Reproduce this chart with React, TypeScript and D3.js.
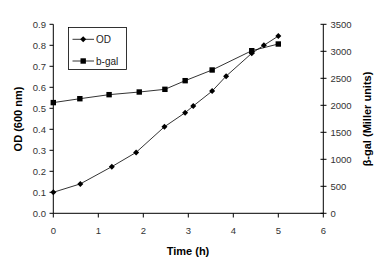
import React from "react";
import * as d3 from "d3";

const timeOD = [0, 0.6, 1.3, 1.84, 2.47, 2.93, 3.11, 3.53, 3.84, 4.41, 4.68, 5.0];
const odValues = [0.10, 0.14, 0.222, 0.29, 0.412, 0.479, 0.511, 0.582, 0.653, 0.762, 0.80, 0.844];
const timeGal = [0, 0.59, 1.24, 1.91, 2.48, 2.93, 3.53, 4.41, 5.0];
const galValues = [2050, 2122, 2197, 2246, 2296, 2456, 2654, 3011, 3135];
const xTicks = [0, 1, 2, 3, 4, 5, 6];
const leftTicks = [0, 0.1, 0.2, 0.3, 0.4, 0.5, 0.6, 0.7, 0.8, 0.9];
const rightTicks = [0, 500, 1000, 1500, 2000, 2500, 3000, 3500];
const legendLabels = ["OD", "b-gal"];

export default function App() {
  const W = 382, H = 273;
  const x = d3.scaleLinear().domain([0, 6]).range([53.3, 323.3]);
  const yL = d3.scaleLinear().domain([0, 0.9]).range([213.3, 24.3]);
  const yR = d3.scaleLinear().domain([0, 3500]).range([213.3, 24.3]);
  const lineOD = d3.line<number>().x((_, i) => x(timeOD[i])).y((d) => yL(d));
  const lineGal = d3.line<number>().x((_, i) => x(timeGal[i])).y((d) => yR(d));
  const font = "'Liberation Sans', Arial, sans-serif";
  const tickFill = "#333";
  const diamond = (cx: number, cy: number, k: string) => (
    <path key={k} d={`M${cx},${cy - 3}L${cx + 3},${cy}L${cx},${cy + 3}L${cx - 3},${cy}Z`} fill="#000" />
  );
  const square = (cx: number, cy: number, k: string) => (
    <rect key={k} x={cx - 2.7} y={cy - 2.7} width={5.4} height={5.4} fill="#000" />
  );
  return (
    <svg width={W} height={H} style={{ position: "absolute", left: 0, top: 0, background: "#fff" }}>
      <rect x={0} y={0} width={W} height={H} fill="#fff" />
      {/* axes */}
      <line x1={53.3} x2={53.3} y1={24.3} y2={213.3} stroke="#000" strokeWidth={1} />
      <line x1={53.3} x2={323.3} y1={213.3} y2={213.3} stroke="#000" strokeWidth={1} />
      <line x1={323.3} x2={323.3} y1={24.3} y2={213.3} stroke="#000" strokeWidth={1} />
      {leftTicks.map((t) => (
        <g key={"l" + t}>
          <line x1={49.5} x2={53.3} y1={yL(t)} y2={yL(t)} stroke="#000" />
          <text x={46} y={yL(t) + 3.3} textAnchor="end" fontSize={9.5} fontFamily={font} fill={tickFill}>
            {t.toFixed(1)}
          </text>
        </g>
      ))}
      {rightTicks.map((t) => (
        <g key={"r" + t}>
          <line x1={320.5} x2={326.5} y1={yR(t)} y2={yR(t)} stroke="#000" />
          <text x={330.5} y={yR(t) + 3.3} textAnchor="start" fontSize={9.5} fontFamily={font} fill={tickFill}>
            {t}
          </text>
        </g>
      ))}
      {xTicks.map((t) => (
        <g key={"x" + t}>
          <line x1={x(t)} x2={x(t)} y1={213.3} y2={217.5} stroke="#000" />
          <text x={x(t)} y={234} textAnchor="middle" fontSize={9.5} fontFamily={font} fill={tickFill}>
            {t}
          </text>
        </g>
      ))}
      {/* axis titles */}
      <text x={188} y={255} textAnchor="middle" fontSize={11} fontWeight="bold" fontFamily={font} fill="#000">
        Time (h)
      </text>
      <text transform="translate(22,119) rotate(-90)" textAnchor="middle" fontSize={11} fontWeight="bold" fontFamily={font} fill="#000">
        OD (600 nm)
      </text>
      <text transform="translate(371,119) rotate(-90)" textAnchor="middle" fontSize={11} fontWeight="bold" fontFamily={font} fill="#000">
        β-gal (Miller units)
      </text>
      {/* series */}
      <path d={lineOD(odValues) || ""} fill="none" stroke="#000" strokeWidth={0.8} />
      <path d={lineGal(galValues) || ""} fill="none" stroke="#000" strokeWidth={0.8} />
      {odValues.map((v, i) => diamond(x(timeOD[i]), yL(v), "od" + i))}
      {galValues.map((v, i) => square(x(timeGal[i]), yR(v), "g" + i))}
      {/* legend */}
      <rect x={68.5} y={27.5} width={58} height={42} fill="#fff" stroke="#000" strokeWidth={0.8} />
      <line x1={72.5} x2={94} y1={39.3} y2={39.3} stroke="#000" strokeWidth={0.8} />
      {diamond(83.2, 39.3, "lgd")}
      <text x={96} y={43} fontSize={10} fontFamily={font} fill="#222">{legendLabels[0]}</text>
      <line x1={72.5} x2={94} y1={61} y2={61} stroke="#000" strokeWidth={0.8} />
      {square(83.2, 61, "lgs")}
      <text x={96} y={64.5} fontSize={10} fontFamily={font} fill="#222">{legendLabels[1]}</text>
    </svg>
  );
}
